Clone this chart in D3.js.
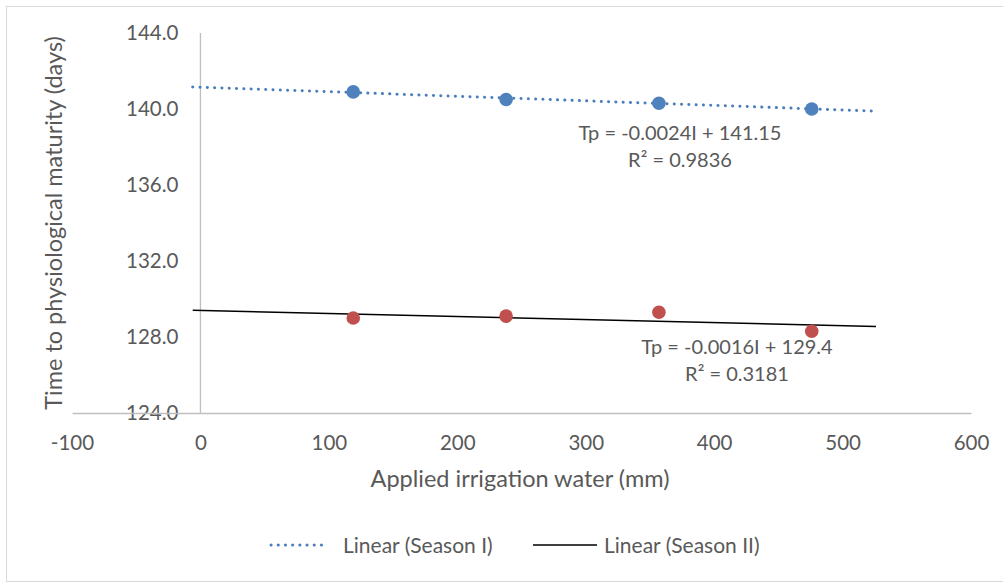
<!DOCTYPE html>
<html>
<head>
<meta charset="utf-8">
<script src="https://cdn.jsdelivr.net/npm/d3@7"></script>
<style>
  body { margin: 0; background: #fff; }
  text { font-family: Lato, 'Open Sans', sans-serif; fill: #595959; }
</style>
</head>
<body>
<script>
const water = [119, 238, 357, 476]
const season1 = [140.9, 140.5, 140.3, 140.0]
const season2 = [129.0, 129.1, 129.3, 128.3]
const xTicks = [-100, 0, 100, 200, 300, 400, 500, 600]
const yTicks = [124, 128, 132, 136, 140, 144]
// trendlines as reported by the chart, drawn from -6 to 526 mm
const trend1 = { slope: -0.0024, intercept: 141.15, r2: '0.9836', label: 'Tp = -0.0024I + 141.15' }
const trend2 = { slope: -0.0016, intercept: 129.4, r2: '0.3181', label: 'Tp = -0.0016I + 129.4' }
const trendRange = [-6, 526]

const W = 1003, H = 582
const svg = d3.select('body').append('svg')
  .attr('width', W)
  .attr('height', H)

svg.append('rect')
  .attr('x', 6.5).attr('y', 6.5)
  .attr('width', W).attr('height', H - 7)
  .attr('fill', 'none')
  .attr('stroke', '#d9d9d9')

const xScale = d3.scaleLinear().domain([-100, 600]).range([72, 971])
const yScale = d3.scaleLinear().domain([124, 144]).range([413, 33])

// vertical axis at x = 0
svg.append('line')
  .attr('x1', xScale(0)).attr('x2', xScale(0))
  .attr('y1', yScale(144)).attr('y2', yScale(124))
  .attr('stroke', '#bfbfbf').attr('stroke-width', 1.3)

const yAxis = svg.append('g')
  .attr('transform', `translate(${xScale(0)}, 0)`)
  .call(d3.axisLeft(yScale).tickValues(yTicks).tickFormat(d => d.toFixed(1)).tickSize(0).tickPadding(22))
yAxis.select('.domain').remove()
yAxis.selectAll('text').style('font-size', '20.5px').style('font-family', 'Lato')

const xAxis = svg.append('g')
  .attr('transform', `translate(0, ${yScale(124)})`)
  .call(d3.axisBottom(xScale).tickValues(xTicks).tickFormat(d => String(d)).tickSize(0).tickPadding(22))
xAxis.select('.domain').attr('stroke', '#bfbfbf').attr('stroke-width', 1.3)
xAxis.selectAll('text').style('font-size', '20.5px').style('font-family', 'Lato')

// trendlines
const trendLine = t => d3.line()
  .x(d => xScale(d))
  .y(d => yScale(t.intercept + t.slope * d))(trendRange)

svg.append('path')
  .attr('d', trendLine(trend1))
  .attr('fill', 'none')
  .attr('stroke', '#4a7ebb')
  .attr('stroke-width', 3)
  .attr('stroke-linecap', 'round')
  .attr('stroke-dasharray', '0.1 7.2')

svg.append('path')
  .attr('d', trendLine(trend2))
  .attr('fill', 'none')
  .attr('stroke', '#000')
  .attr('stroke-width', 1.5)

// points
svg.selectAll('.s1')
  .data(water)
  .enter().append('circle')
  .attr('class', 's1')
  .attr('cx', d => xScale(d))
  .attr('cy', (d, i) => yScale(season1[i]))
  .attr('r', 6.8)
  .attr('fill', '#4f81bd')

svg.selectAll('.s2')
  .data(water)
  .enter().append('circle')
  .attr('class', 's2')
  .attr('cx', d => xScale(d))
  .attr('cy', (d, i) => yScale(season2[i]))
  .attr('r', 6.8)
  .attr('fill', '#c0504d')

// equation labels
const eq = (t, x, y) => {
  const g = svg.append('g')
  g.append('text').attr('x', x).attr('y', y)
    .style('text-anchor', 'middle').style('font-size', '20px')
    .text(t.label)
  g.append('text').attr('x', x).attr('y', y + 27)
    .style('text-anchor', 'middle').style('font-size', '20px')
    .text('R² = ' + t.r2)
}
eq(trend1, 680, 140)
eq(trend2, 737, 354)

// axis titles
svg.append('text')
  .attr('x', 520).attr('y', 487)
  .style('text-anchor', 'middle')
  .style('font-size', '23.5px')
  .text('Applied irrigation water (mm)')

svg.append('text')
  .attr('transform', `translate(62, ${(yScale(124) + yScale(144)) / 2}) rotate(-90)`)
  .style('text-anchor', 'middle')
  .style('font-size', '23.5px')
  .text('Time to physiological maturity (days)')

// legend
const legend = svg.append('g')
legend.append('line')
  .attr('x1', 271).attr('x2', 328).attr('y1', 545).attr('y2', 545)
  .attr('stroke', '#4a7ebb').attr('stroke-width', 3)
  .attr('stroke-linecap', 'round').attr('stroke-dasharray', '0.1 7.1')
legend.append('text')
  .attr('x', 343).attr('y', 553)
  .style('font-size', '21px')
  .text('Linear (Season I)')
legend.append('line')
  .attr('x1', 533).attr('x2', 597).attr('y1', 545).attr('y2', 545)
  .attr('stroke', '#000').attr('stroke-width', 1.5)
legend.append('text')
  .attr('x', 604).attr('y', 553)
  .style('font-size', '21px')
  .text('Linear (Season II)')
</script>
</body>
</html>
